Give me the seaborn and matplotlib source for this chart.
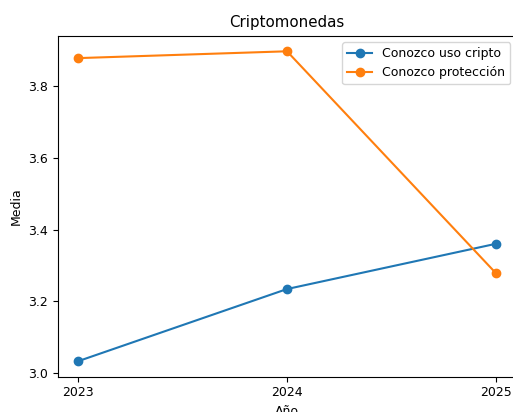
import matplotlib
matplotlib.use("Agg")
import matplotlib.pyplot as plt
import seaborn as sns
import pandas as pd

# datos
anios = [2023, 2024, 2025]
uso_cripto = [3.033, 3.234, 3.360]
proteccion = [3.878, 3.897, 3.279]

df = pd.DataFrame({"Año": anios,
                   "Conozco uso cripto": uso_cripto,
                   "Conozco protección": proteccion})

plt.rcParams["font.size"] = 9

fig = plt.figure(figsize=(5.13, 4.12), dpi=100)
# la imagen original está recortada a la derecha y abajo
ax = fig.add_axes([57.5 / 513, 35.4 / 412, 459 / 513, 340.8 / 412])

colores = ["#1f77b4", "#ff7f0e"]
for col, c in zip(["Conozco uso cripto", "Conozco protección"], colores):
    sns.lineplot(data=df, x="Año", y=col, ax=ax, color=c, marker="o",
                 markersize=6, markeredgecolor=c, markeredgewidth=1,
                 linewidth=1.5, label=col)

ax.set_xticks(anios)
ax.set_xticklabels([str(a) for a in anios])
ax.set_title("Criptomonedas")
ax.set_xlabel("Año")
ax.set_ylabel("Media")
ax.legend(loc="upper right")

fig.savefig("out.png", dpi=100)
